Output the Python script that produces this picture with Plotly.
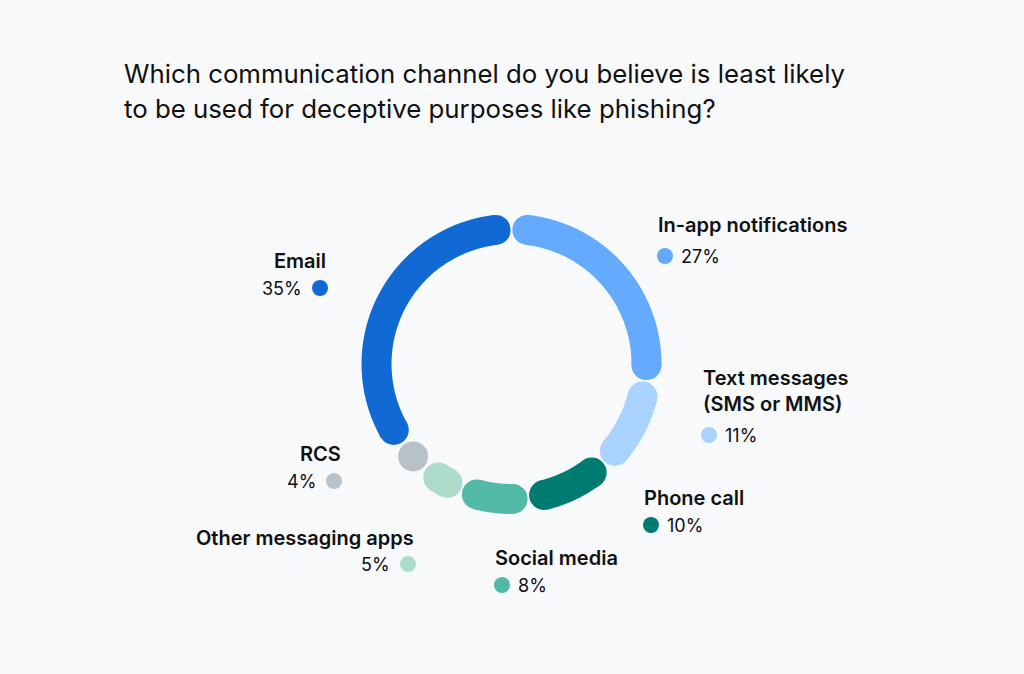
import numpy as np
import plotly.graph_objects as go

# ---- data ----
categories = ["In-app notifications", "Text messages<br>(SMS or MMS)", "Phone call",
              "Social media", "Other messaging apps", "RCS", "Email"]
shares = [27, 11, 10, 8, 5, 4, 35]
pct_labels = ["27%", "11%", "10%", "8%", "5%", "4%", "35%"]
colors = ["#64aaff", "#aad2ff", "#007b72", "#53b9a7", "#aedccb", "#b9c1c9", "#1169d3"]

title_lines = ["Which communication channel do you believe is least likely",
               "to be used for deceptive purposes like phishing?"]

BG = "#f7f9fb"
FONT = "Inter"
RING = 0.794      # ring radius in polar units
THICK = 30        # ring thickness in px
GAP = 13.5        # degrees removed per segment for gaps / round caps

fig = go.Figure()

# ---- donut segments with rounded ends ----
total = sum(shares)
bounds = np.concatenate([[0], np.cumsum(shares)]) / total * 360.0
for i, (s, c) in enumerate(zip(shares, colors)):
    a0, a1 = bounds[i], bounds[i + 1]
    mid = (a0 + a1) / 2
    half = max((a1 - a0 - GAP) / 2, 0)
    if half > 1.0:
        th = np.linspace(mid - half, mid + half, 120)
        fig.add_trace(go.Scatterpolar(
            theta=th, r=[RING] * len(th), mode="lines",
            line=dict(color=c, width=THICK), hoverinfo="skip",
            showlegend=False, cliponaxis=False))
        ends = [th[0], th[-1]]
    else:
        ends = [mid]
    fig.add_trace(go.Scatterpolar(
        theta=ends, r=[RING] * len(ends), mode="markers",
        marker=dict(color=c, size=THICK, line=dict(width=0)),
        hoverinfo="skip", showlegend=False, cliponaxis=False))

# ---- labels (name, percent, dot) ----
# per category: (name_x, name_y, name_anchor, dot_x, dot_y, pct_side)
label_layout = {
    "In-app notifications": (656, 225, "left", 665, 256, "right"),
    "Text messages<br>(SMS or MMS)": (701, 391, "left", 709, 435, "right"),
    "Phone call": (642, 498, "left", 651, 525, "right"),
    "Social media": (493, 558, "left", 502, 585, "right"),
    "Other messaging apps": (416, 538, "right", 408, 564, "left"),
    "RCS": (343, 454, "right", 334, 481, "left"),
    "Email": (328, 261, "right", 320, 288, "left"),
}

dot_x, dot_y = [], []
for cat, pct, col in zip(categories, pct_labels, colors):
    nx, ny, nanchor, dx, dy, pside = label_layout[cat]
    fig.add_annotation(x=nx, y=ny, xref="x", yref="y", text=cat, showarrow=False,
                       xanchor=nanchor, yanchor="middle", align=nanchor,
                       font=dict(family=FONT, size=20, color="#111111", weight=600))
    if pside == "right":
        fig.add_annotation(x=dx + 14, y=dy, xref="x", yref="y", text=pct, showarrow=False,
                           xanchor="left", yanchor="middle",
                           font=dict(family=FONT, size=18, color="#111111"))
    else:
        fig.add_annotation(x=dx - 16, y=dy, xref="x", yref="y", text=pct, showarrow=False,
                           xanchor="right", yanchor="middle",
                           font=dict(family=FONT, size=18, color="#111111"))
    dot_x.append(dx)
    dot_y.append(dy)

fig.add_trace(go.Scatter(x=dot_x, y=dot_y, mode="markers",
                         marker=dict(color=colors, size=16, line=dict(width=0)),
                         hoverinfo="skip", showlegend=False, cliponaxis=False))

# ---- title ----
for k, line in enumerate(title_lines):
    fig.add_annotation(x=122, y=73 + 35 * k, xref="x", yref="y", text=line, showarrow=False,
                       xanchor="left", yanchor="middle",
                       font=dict(family=FONT, size=25.8, color="#111111"))

W, H = 1024, 674
cx, cy, R = 511.5, 364, 170
fig.update_layout(
    width=W, height=H, margin=dict(l=0, r=0, t=0, b=0),
    paper_bgcolor=BG, plot_bgcolor="rgba(0,0,0,0)",
    xaxis=dict(range=[0, W], visible=False, domain=[0, 1], fixedrange=True),
    yaxis=dict(range=[H, 0], visible=False, domain=[0, 1], fixedrange=True),
    polar=dict(
        domain=dict(x=[(cx - R) / W, (cx + R) / W], y=[(H - cy - R) / H, (H - cy + R) / H]),
        bgcolor="rgba(0,0,0,0)",
        angularaxis=dict(rotation=90, direction="clockwise", visible=False),
        radialaxis=dict(range=[0, 1], visible=False),
    ),
    showlegend=False,
)

fig.write_html("out.html", config={"displayModeBar": False},
               post_script="document.body.style.margin='0';document.body.style.overflow='hidden';"
                           "document.body.style.background='%s';" % BG)
